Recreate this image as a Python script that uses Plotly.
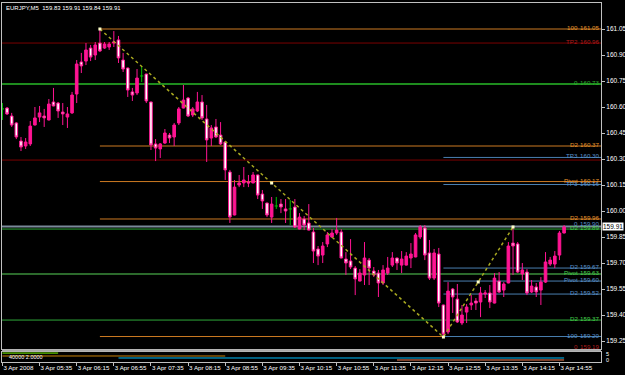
import plotly.graph_objects as go

# ---------------- data ----------------
bar_index = list(range(122))
open_ = [160.589,160.594,160.548,160.508,160.404,160.375,160.387,160.496,160.542,160.548,
         160.525,160.629,160.623,160.571,160.542,160.566,160.675,160.860,160.865,160.940,
         160.900,160.969,160.940,160.946,160.969,160.987,160.871,160.825,160.687,160.681,
         160.779,160.790,160.629,160.387,160.358,160.392,160.438,160.427,160.508,160.594,
         160.652,160.554,160.577,160.629,160.531,160.421,160.485,160.438,160.398,160.225,
         159.977,160.150,160.162,160.167,160.162,160.208,160.098,160.046,159.965,160.029,
         160.040,160.012,160.012,160.023,159.896,159.954,159.931,159.879,159.781,159.746,
         159.810,159.850,159.873,159.879,159.723,159.712,159.671,159.596,159.631,159.717,
         159.654,159.642,159.585,159.642,159.688,159.729,159.688,159.688,159.729,159.735,
         159.850,159.902,159.758,159.613,159.752,159.458,159.302,159.550,159.492,159.354,
         159.417,159.458,159.481,159.475,159.521,159.527,159.469,159.596,159.544,159.585,
         159.815,159.810,159.637,159.648,159.533,159.562,159.544,159.590,159.694,159.694,
         159.746,159.873]
high = [160.623,160.600,160.566,160.513,160.427,160.421,160.519,160.600,160.606,160.589,
        160.646,160.710,160.629,160.623,160.600,160.687,160.871,160.912,160.969,160.958,
        160.975,161.050,160.975,160.975,161.038,161.010,160.912,160.827,160.710,160.819,
        160.831,160.792,160.631,160.415,160.392,160.473,160.450,160.508,160.600,160.727,
        160.658,160.600,160.687,160.669,160.612,160.496,160.531,160.513,160.400,160.237,
        160.179,160.208,160.254,160.208,160.225,160.210,160.121,160.048,160.081,160.081,
        160.069,160.069,160.063,160.069,159.988,159.971,160.040,159.902,159.798,159.821,
        159.879,159.896,159.960,159.896,159.763,159.838,159.683,159.665,159.821,159.729,
        159.677,159.660,159.688,159.735,159.763,159.731,159.769,159.763,159.815,159.873,
        159.919,159.919,159.833,159.781,159.787,159.460,159.590,159.556,159.579,159.458,
        159.463,159.515,159.498,159.562,159.544,159.573,159.642,159.648,159.590,159.821,
        159.908,159.821,159.700,159.665,159.602,159.585,159.619,159.763,159.735,159.769,
        159.885,159.919]
low = [160.525,160.554,160.485,160.415,160.346,160.358,160.375,160.494,160.513,160.485,
       160.523,160.604,160.537,160.496,160.479,160.560,160.623,160.796,160.842,160.865,
       160.871,160.917,160.935,160.929,160.946,160.854,160.802,160.658,160.635,160.669,
       160.744,160.623,160.352,160.288,160.306,160.387,160.392,160.375,160.496,160.592,
       160.542,160.542,160.571,160.525,160.283,160.375,160.421,160.381,160.179,159.931,
       159.975,160.138,160.138,160.138,160.160,160.069,160.012,159.965,159.931,160.012,
       159.988,159.931,159.919,159.902,159.894,159.890,159.888,159.700,159.688,159.700,
       159.792,159.844,159.862,159.727,159.631,159.665,159.515,159.594,159.573,159.573,
       159.619,159.504,159.573,159.631,159.677,159.660,159.642,159.686,159.671,159.733,
       159.838,159.717,159.602,159.602,159.446,159.273,159.290,159.412,159.354,159.342,
       159.354,159.429,159.429,159.388,159.498,159.440,159.467,159.527,159.504,159.583,
       159.631,159.642,159.602,159.515,159.527,159.504,159.458,159.585,159.683,159.671,
       159.717,159.871]
close = [160.589,160.560,160.496,160.427,160.369,160.398,160.490,160.537,160.566,160.537,
         160.617,160.606,160.577,160.560,160.560,160.669,160.848,160.837,160.929,160.888,
         160.958,160.923,160.963,160.963,160.975,160.883,160.819,160.698,160.669,160.767,
         160.779,160.635,160.381,160.363,160.387,160.450,160.421,160.496,160.589,160.640,
         160.548,160.589,160.629,160.537,160.410,160.479,160.427,160.387,160.237,159.965,
         160.138,160.162,160.179,160.162,160.208,160.092,160.058,159.977,160.040,160.029,
         160.023,160.000,160.012,159.908,159.965,159.919,159.890,159.769,159.740,159.798,
         159.862,159.873,159.890,159.729,159.700,159.677,159.608,159.642,159.729,159.671,
         159.631,159.585,159.660,159.671,159.729,159.700,159.723,159.740,159.752,159.862,
         159.908,159.746,159.613,159.758,159.469,159.290,159.538,159.504,159.360,159.400,
         159.446,159.469,159.469,159.527,159.527,159.475,159.613,159.533,159.579,159.798,
         159.798,159.648,159.660,159.527,159.567,159.533,159.590,159.706,159.717,159.740,
         159.873,159.908]

x_tick_bars = [0, 8, 16, 24, 32, 40, 48, 56, 64, 72, 80, 88, 96, 104, 112, 120]
x_tick_labels = ["3 Apr 2008", "3 Apr 05:35", "3 Apr 06:15", "3 Apr 06:55", "3 Apr 07:35",
                 "3 Apr 08:15", "3 Apr 08:55", "3 Apr 09:35", "3 Apr 10:15", "3 Apr 10:55",
                 "3 Apr 11:35", "3 Apr 12:15", "3 Apr 12:55", "3 Apr 13:35", "3 Apr 14:15",
                 "3 Apr 14:55"]
y_ticks = [161.05, 160.90, 160.75, 160.60, 160.45, 160.30, 160.15, 160.00,
           159.85, 159.70, 159.55, 159.40, 159.25]
y_tick_labels = ["161.05", "160.90", "160.75", "160.60", "160.45", "160.30", "160.15",
                 "160.00", "159.85", "159.70", "159.55", "159.40", "159.25"]

# horizontal levels: price, first bar, last bar (None = edge), colour key
level_price = [161.050, 160.969, 160.733, 160.375, 160.309, 160.294, 160.170, 160.153,
               159.954, 159.911, 159.896, 159.671, 159.637, 159.596, 159.521, 159.371,
               159.276, 159.276]
level_start = [21, None, None, 21, 95, None, 21, 95, 21, None, None, 95, None, 95, 95, None, 21, 95]
level_end = [None, None, None, None, None, None, None, None, None, None, None, None, None,
             None, None, None, 95, None]
level_kind = ["orange", "maroon", "green", "orange", "blue", "maroon", "orange", "blue",
              "orange", "grey", "green2", "blue", "green3", "blue", "blue", "green2",
              "orange", "blue"]

# right-hand level captions
label_name = ["100", "TP2", "0", "D2", "TP3", "Pivot", "TP3", "D2", "0", "D2",
              "D2", "Pivot", "Pivot", "D2", "D2", "100", "0"]
label_value = ["161.05", "160.96", "160.73", "160.37", "160.30", "160.17", "160.16", "159.96",
               "159.90", "159.89", "159.67", "159.63", "159.60", "159.52", "159.37", "159.20",
               "159.19"]
label_price = [161.050, 160.969, 160.733, 160.375, 160.309, 160.170, 160.150, 159.954,
               159.918, 159.896, 159.671, 159.637, 159.596, 159.521, 159.371, 159.276, 159.210]
label_kind = ["orange", "maroon", "green", "orange", "blue", "orange", "blue", "orange",
              "blue", "green2", "blue", "green2", "blue", "blue", "green2", "blue", "maroon"]

# zigzag pivots
zz_bar = [21, 95, 110]
zz_price = [161.050, 159.273, 159.908]

# lower indicator window
ind_value = [4.9, 3.3, 2.2, 1.1]
ind_start = [0, 0, 25, 85]
ind_end = [12, 48, 121, 121]
ind_color = ["#7CFC00", "#C8820A", "#00BFFF", "#FF7F50"]

title_text = "EURJPY,M5  159.83 159.91 159.84 159.91"
last_price = 159.911

# ---------------- styling ----------------
PINK = "#FF1493"
FONT = "Liberation Sans, Arial, sans-serif"
line_col = {"orange": "#CD7A22", "maroon": "#7A0000", "green": "#1E8C1E", "blue": "#4A7FB0",
            "grey": "#7A8A9A", "green2": "#2FA83A", "green3": "#2C6A2C"}
line_w = {"orange": 1, "maroon": 1, "green": 2, "blue": 1, "grey": 2, "green2": 1, "green3": 2}
text_col = {"orange": "#E8962E", "maroon": "#B01C1C", "green": "#30B030", "blue": "#5A92CC",
            "green2": "#44D04A"}

XMIN, XMAX = -0.09, 128.95
YMIN, YMAX = 159.204, 161.200

fig = go.Figure()

# candles (non-doji)
nd = [i for i in bar_index if open_[i] != close[i]]
fig.add_trace(go.Candlestick(
    x=[bar_index[i] for i in nd], open=[open_[i] for i in nd], high=[high[i] for i in nd],
    low=[low[i] for i in nd], close=[close[i] for i in nd],
    increasing=dict(line=dict(color=PINK, width=1), fillcolor=PINK),
    decreasing=dict(line=dict(color=PINK, width=1), fillcolor="white"),
    whiskerwidth=0, showlegend=False, hoverinfo="skip", xaxis="x", yaxis="y"))

# doji candles drawn in green
dj = [i for i in bar_index if open_[i] == close[i]]
dx, dy = [], []
for i in dj:
    dx += [bar_index[i], bar_index[i], None, bar_index[i] - 0.35, bar_index[i] + 0.35, None]
    dy += [low[i], high[i], None, open_[i], open_[i], None]
fig.add_trace(go.Scatter(x=dx, y=dy, mode="lines", line=dict(color="#00C000", width=1),
                         showlegend=False, hoverinfo="skip", xaxis="x", yaxis="y"))

# zigzag dotted line and markers
fig.add_trace(go.Scatter(x=zz_bar, y=zz_price, mode="lines",
                         line=dict(color="#A8A820", width=1.5, dash="dot"),
                         showlegend=False, hoverinfo="skip", xaxis="x", yaxis="y"))
mid_x = [(zz_bar[k] + zz_bar[k + 1]) / 2 for k in range(len(zz_bar) - 1)]
mid_y = [(zz_price[k] + zz_price[k + 1]) / 2 for k in range(len(zz_price) - 1)]
fig.add_trace(go.Scatter(x=zz_bar + mid_x, y=zz_price + mid_y, mode="markers",
                         marker=dict(symbol="square", size=3, color="#FFFFC8"),
                         showlegend=False, hoverinfo="skip", xaxis="x", yaxis="y"))

# level lines
shapes = []
for p, s, e, k in zip(level_price, level_start, level_end, level_kind):
    shapes.append(dict(type="line", xref="x", yref="y",
                       x0=XMIN if s is None else s, x1=XMAX if e is None else e,
                       y0=p, y1=p, line=dict(color=line_col[k], width=line_w[k]), layer="below"))

# indicator window lines
for v, s, e, c in zip(ind_value, ind_start, ind_end, ind_color):
    fig.add_trace(go.Scatter(x=[s, e], y=[v, v], mode="lines", line=dict(color=c, width=1),
                             showlegend=False, hoverinfo="skip", xaxis="x2", yaxis="y2"))

# separator between panes
shapes.append(dict(type="line", xref="paper", yref="paper", x0=0, x1=1, y0=0.0320, y1=0.0320,
                   line=dict(color="#A8A8A8", width=2)))

LBL = 6.2
annotations = []
for n, v, p, k in zip(label_name, label_value, label_price, label_kind):
    annotations.append(dict(xref="paper", yref="y", x=(579 - 2) / 599, y=p, text=n,
                            xanchor="right", yanchor="bottom", yshift=-3, showarrow=False,
                            borderpad=0, font=dict(family=FONT, size=LBL, color=text_col[k])))
    annotations.append(dict(xref="paper", yref="y", x=(600 - 2) / 599, y=p, text=v,
                            xanchor="right", yanchor="bottom", yshift=-3, showarrow=False,
                            borderpad=0, font=dict(family=FONT, size=LBL, color=text_col[k])))

annotations.append(dict(xref="paper", yref="paper", x=0.004, y=1, text=title_text,
                        xanchor="left", yanchor="top", yshift=0, showarrow=False,
                        font=dict(family=FONT, size=6, color="white")))
annotations.append(dict(xref="paper", yref="y", x=1, y=last_price, text="159.91",
                        xanchor="left", yanchor="middle", xshift=1, showarrow=False,
                        bgcolor="white", borderpad=0,
                        font=dict(family=FONT, size=6.5, color="black")))
annotations.append(dict(xref="paper", yref="y2", x=0.008, y=2.8, text="40000 2.0000",
                        xanchor="left", yanchor="middle", showarrow=False,
                        font=dict(family=FONT, size=5.5, color="white")))
annotations.append(dict(xref="paper", yref="y2", x=1, y=4.2, text="5", xanchor="left",
                        yanchor="middle", xshift=3, showarrow=False,
                        font=dict(family=FONT, size=5.5, color="white")))
annotations.append(dict(xref="paper", yref="y2", x=1, y=1.2, text="0", xanchor="left",
                        yanchor="middle", xshift=3, showarrow=False,
                        font=dict(family=FONT, size=5.5, color="white")))

axis_common = dict(showgrid=False, zeroline=False, showline=True, mirror=True,
                   linecolor="#C0C0C0", linewidth=1, automargin=False)

fig.update_layout(
    width=625, height=375,
    paper_bgcolor="black", plot_bgcolor="black",
    margin=dict(l=2, r=24, t=3, b=13, autoexpand=False),
    showlegend=False, boxgap=0.2,
    xaxis=dict(domain=[0, 1], range=[XMIN, XMAX], anchor="y", showticklabels=False, ticks="",
               rangeslider=dict(visible=False), **axis_common),
    yaxis=dict(domain=[0.0362, 1], range=[YMIN, YMAX], anchor="x", side="right",
               tickvals=y_ticks, ticktext=y_tick_labels, ticks="outside", ticklen=3,
               tickcolor="#C0C0C0", tickfont=dict(family=FONT, size=6.5, color="white"),
               **axis_common),
    xaxis2=dict(domain=[0, 1], range=[XMIN, XMAX], anchor="y2", tickvals=x_tick_bars,
                ticktext=x_tick_labels, ticks="outside", ticklen=3, tickcolor="#C0C0C0",
                ticklabelposition="outside right", tickangle=0,
                tickfont=dict(family=FONT, size=6.2, color="white"), **axis_common),
    yaxis2=dict(domain=[0, 0.0279], range=[0, 5.5], anchor="x2", side="right",
                showticklabels=False, ticks="", **axis_common),
    shapes=shapes, annotations=annotations,
)

fig.write_html("out.html")
